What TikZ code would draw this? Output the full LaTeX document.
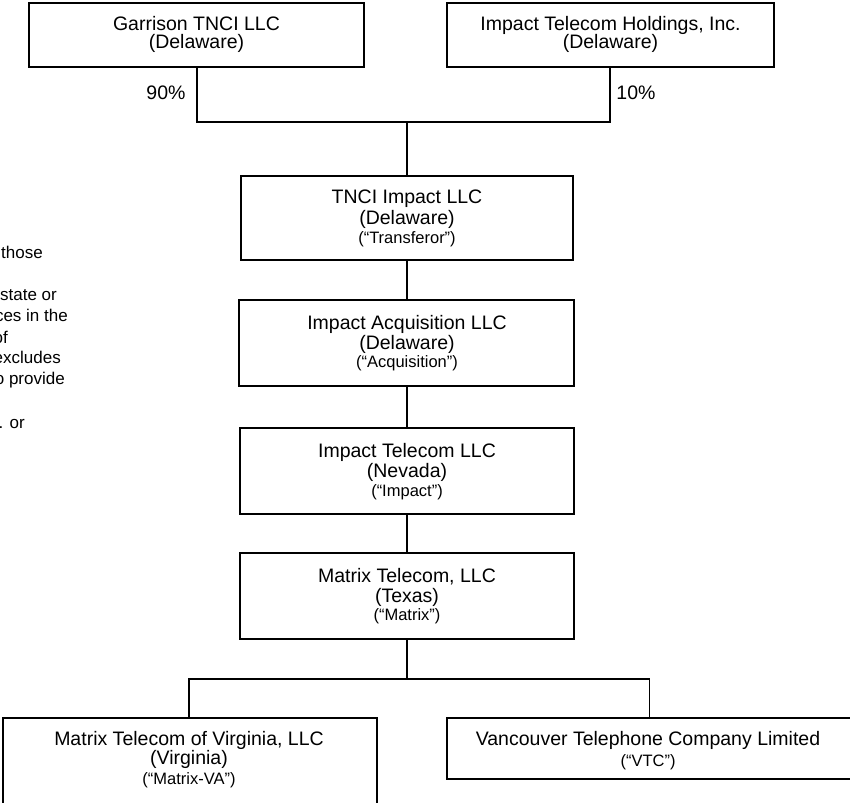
\documentclass[tikz,border=0pt]{standalone}
\usepackage{fontspec}
\setmainfont{Liberation Sans}
\begin{document}
\begin{tikzpicture}[x=1pt,y=-1pt,
  box/.style={draw=black,line width=1.2pt,inner sep=0pt},
  big/.style={anchor=base,inner sep=0pt,font=\fontsize{19.5}{22}\selectfont},
  small/.style={anchor=base,inner sep=0pt,font=\fontsize{16.5}{19}\selectfont},
  side/.style={anchor=base east,inner sep=0pt,font=\fontsize{17}{19}\selectfont},
  conn/.style={draw=black,line width=1.2pt}]
\useasboundingbox (0,0) rectangle (850,802);
\fill[white] (0,0) rectangle (850,802);

% left clipped paragraph fragment
\node[side] (s1) at (43,258) {those};
\node[side] (s2) at (57,300) {state or};
\node[side] (s3) at (68,321) {ces in the};
\node[side] (s4) at (8,343) {of};
\node[side] (s5) at (61,363) {excludes};
\node[side] (s6) at (65,384) {o provide};
\node[side] (s7) at (25,428) {. or};

% boxes
\node[box,minimum width=335pt,minimum height=64pt] (gar) at (196.5,35) {};
\node[box,minimum width=327pt,minimum height=64pt] (hold) at (610.5,35) {};
\node[box,minimum width=332pt,minimum height=84pt] (tnci) at (407,218) {};
\node[box,minimum width=335pt,minimum height=86pt] (acq) at (406.5,343) {};
\node[box,minimum width=334pt,minimum height=86pt] (imp) at (407,471) {};
\node[box,minimum width=334pt,minimum height=86pt] (mat) at (407,596) {};
\node[box,minimum width=374pt,minimum height=90pt] (va) at (190,763) {};
\node[box,minimum width=405pt,minimum height=61pt] (vtc) at (649.5,748.5) {};

% texts
\node[big] (t1a) at (196.5,31) {Garrison TNCI LLC};
\node[big] (t1b) at (196.5,49) {(Delaware)};
\node[big] (t2a) at (610.5,31) {Impact Telecom Holdings, Inc.};
\node[big] (t2b) at (610.5,49) {(Delaware)};

\node[big] (t3a) at (407,204) {TNCI Impact LLC};
\node[big] (t3b) at (407,224) {(Delaware)};
\node[small] (t3c) at (407,243) {(“Transferor”)};

\node[big] (t4a) at (407,329) {Impact Acquisition LLC};
\node[big] (t4b) at (407,349) {(Delaware)};
\node[small] (t4c) at (407,367) {(“Acquisition”)};

\node[big] (t5a) at (407,457) {Impact Telecom LLC};
\node[big] (t5b) at (407,477) {(Nevada)};
\node[small] (t5c) at (407,496) {(“Impact”)};

\node[big] (t6a) at (407,582) {Matrix Telecom, LLC};
\node[big] (t6b) at (407,602) {(Texas)};
\node[small] (t6c) at (407,620) {(“Matrix”)};

\node[big] (t7a) at (189,745) {Matrix Telecom of Virginia, LLC};
\node[big] (t7b) at (189,764) {(Virginia)};
\node[small] (t7c) at (189,784) {(“Matrix-VA”)};

\node[big] (t8a) at (648,745) {Vancouver Telephone Company Limited};
\node[small] (t8b) at (648,766) {(“VTC”)};

% percentages
\node[big] (p90) at (166,100) {90\%};
\node[big] (p10) at (636,100) {10\%};

% connectors
\coordinate (j1) at (407,122);
\coordinate (j2) at (407,679);
\draw[conn] (gar.south -| 197,0) |- (j1) -| (hold.south -| 610,0);
\draw[conn] (j1) -- (tnci.north);
\draw[conn] (tnci.south) -- (acq.north -| tnci.south);
\draw[conn] (acq.south -| tnci.south) -- (imp.north);
\draw[conn] (imp.south) -- (mat.north);
\draw[conn] (mat.south) -- (j2);
\draw[conn] (va.north -| 189,0) |- (j2) -| (vtc.north);
\end{tikzpicture}
\end{document}
